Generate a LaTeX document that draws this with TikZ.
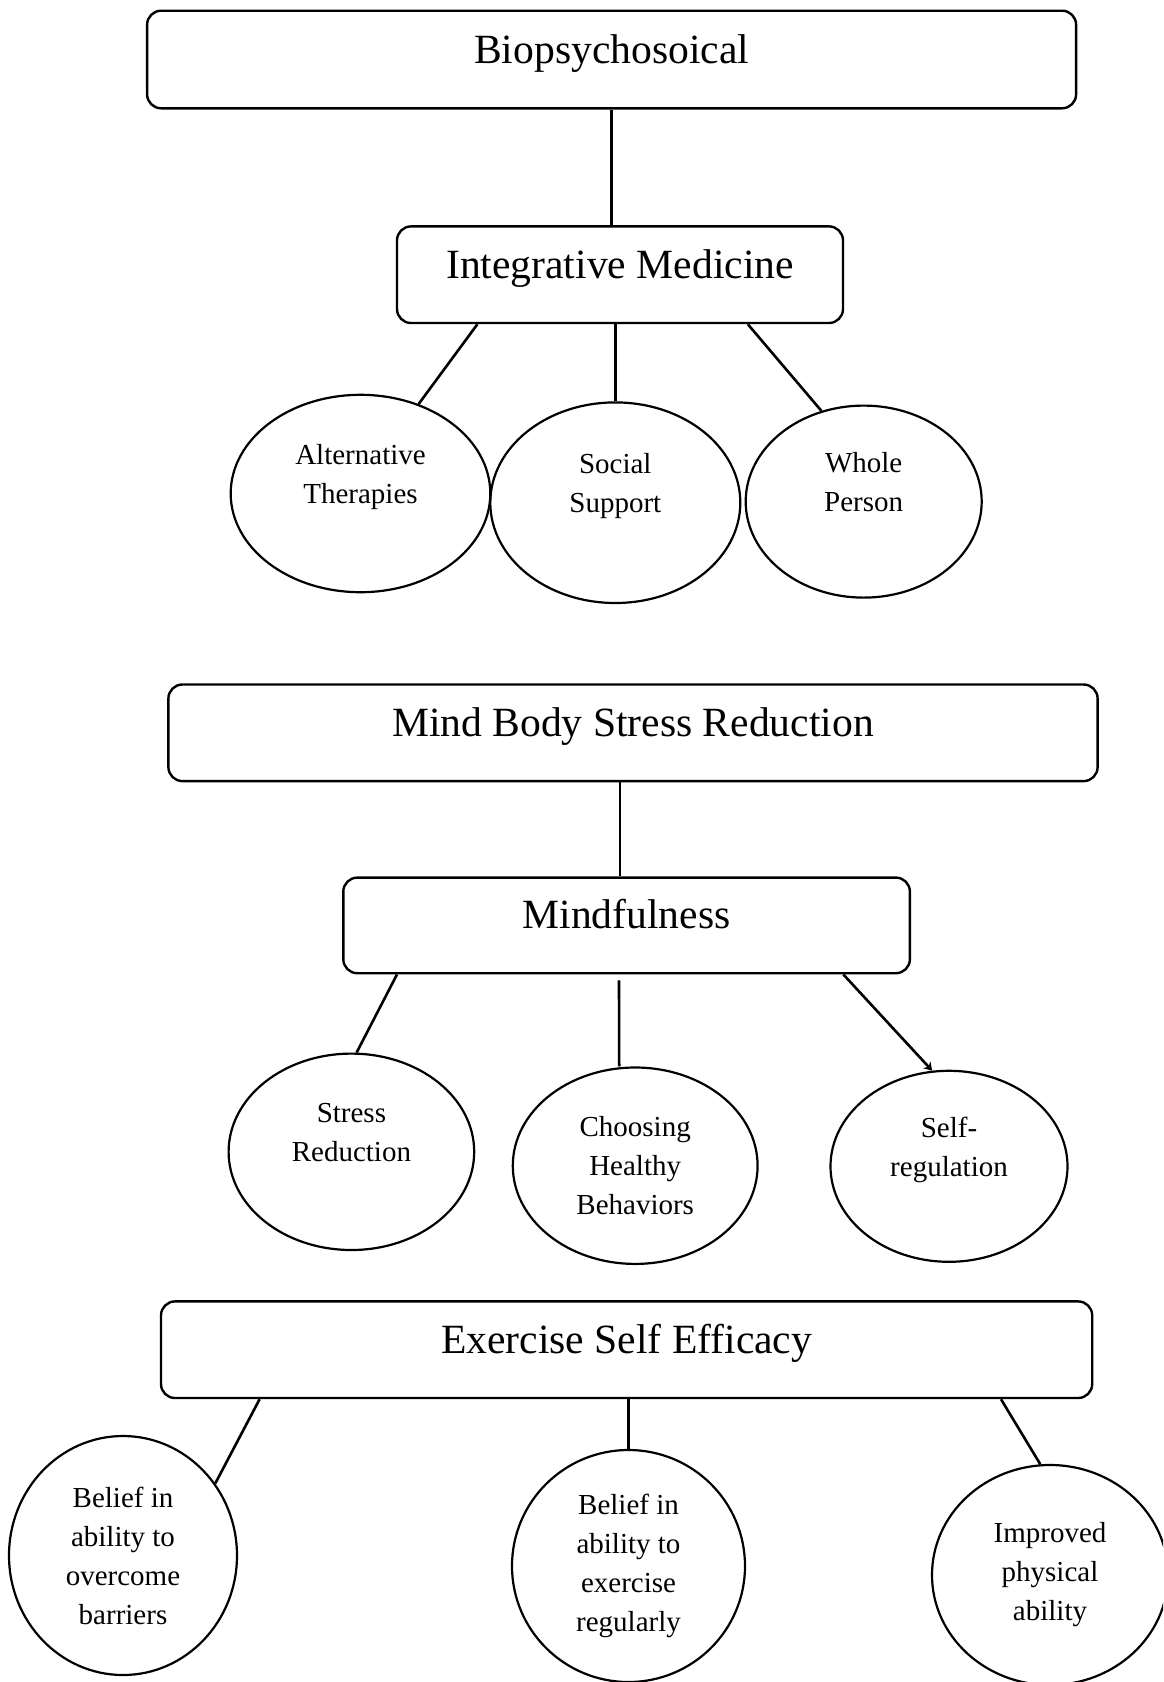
\documentclass[tikz,border=0pt]{standalone}
\usepackage{fontspec}
\setmainfont{Liberation Serif}
\usepackage{tikz}
\usetikzlibrary{shapes.geometric, arrows.meta, calc}

\begin{document}
\begin{tikzpicture}[
	x=0.5pt, y=-0.5pt,
	frame/.style={rectangle, draw=black, line width=1.2pt, rounded corners=7pt, align=center,
	             font=\fontsize{20.8}{24}\selectfont, text height=14pt, text depth=10.5pt, inner sep=0pt},
	oval/.style={ellipse, draw=black, line width=1.1pt, align=center, inner sep=0pt,
	             font=\fontsize{14.5}{19.5}\selectfont},
	conn/.style={draw=black, line width=1.3pt}
	]
\useasboundingbox (0,0) rectangle (1163,1682);
\clip (0,0) rectangle (1163,1682);

\node[frame, minimum width=464.5pt, minimum height=48.8pt] (bio) at (611.6,59.5) {Biopsychosoical};
\node[frame, minimum width=223pt, minimum height=48.3pt] (im) at (620,274.7) {Integrative Medicine};
\node[oval, minimum width=129.8pt, minimum height=98.7pt] (alt) at (360.5,493.5) {Alternative\\Therapies\\\mbox{}};
\node[oval, minimum width=125pt, minimum height=100.3pt] (soc) at (615.3,502.7) {Social\\Support\\\mbox{}};
\node[oval, minimum width=118pt, minimum height=96pt] (whole) at (863.7,501.6) {Whole\\Person\\\mbox{}};

\node[frame, minimum width=464.6pt, minimum height=48.3pt] (mbsr) at (633,732.8) {Mind Body Stress Reduction};
\node[frame, minimum width=283.3pt, minimum height=47.8pt] (mind) at (626.6,925.4) {Mindfulness};
\node[oval, minimum width=122.8pt, minimum height=98.2pt] (sr) at (351.4,1151.8) {Stress\\Reduction\\\mbox{}};
\node[oval, minimum width=122.4pt, minimum height=98.2pt] (chb) at (635.2,1165.7) {Choosing\\Healthy\\Behaviors};
\node[oval, minimum width=118.5pt, minimum height=95.5pt] (selfreg) at (949,1166.3) {Self-\\regulation\\\mbox{}};

\node[frame, minimum width=465.6pt, minimum height=48.3pt] (ese) at (626.6,1349.7) {Exercise Self Efficacy};
\node[oval, minimum width=114pt, minimum height=119.5pt] (bo) at (123,1555.5) {Belief in\\ability to\\overcome\\barriers};
\node[oval, minimum width=116.5pt, minimum height=116pt] (be) at (628.5,1566) {Belief in\\ability to\\exercise\\regularly};
\node[oval, minimum width=118pt, minimum height=110pt] (ipa) at (1050,1575) {Improved\\physical\\ability};

\draw[conn] (bio.south) -- (bio.south |- im.north);
\draw[conn] ($(im.south)+(-142.6,0)$) -- (alt.57);
\draw[conn] (soc.north |- im.south) -- (soc.north);
\draw[conn] ($(im.south)+(127.8,0)$) -- (whole.115);

\draw[conn] ($(mbsr.south)+(-13,0)$) -- ($(mind.north)+(-6.6,0)$);
\draw[conn] ($(mind.south)+(-229.6,0)$) -- (sr.87);
\draw[conn] ($(mind.south)+(-7.6,6)$) -- ($(chb.north)+(-16,0)$);
\draw[conn, -{Stealth[length=4pt, width=5pt]}] ($(mind.south)+(216.7,0)$) -- (selfreg.100);

\draw[conn] ($(ese.south)+(-367,0)$) -- (bo.38);
\draw[conn] (be.north |- ese.south) -- (be.north);
\draw[conn] ($(ese.south)+(374.4,0)$) -- (ipa.95);
\end{tikzpicture}
\end{document}
